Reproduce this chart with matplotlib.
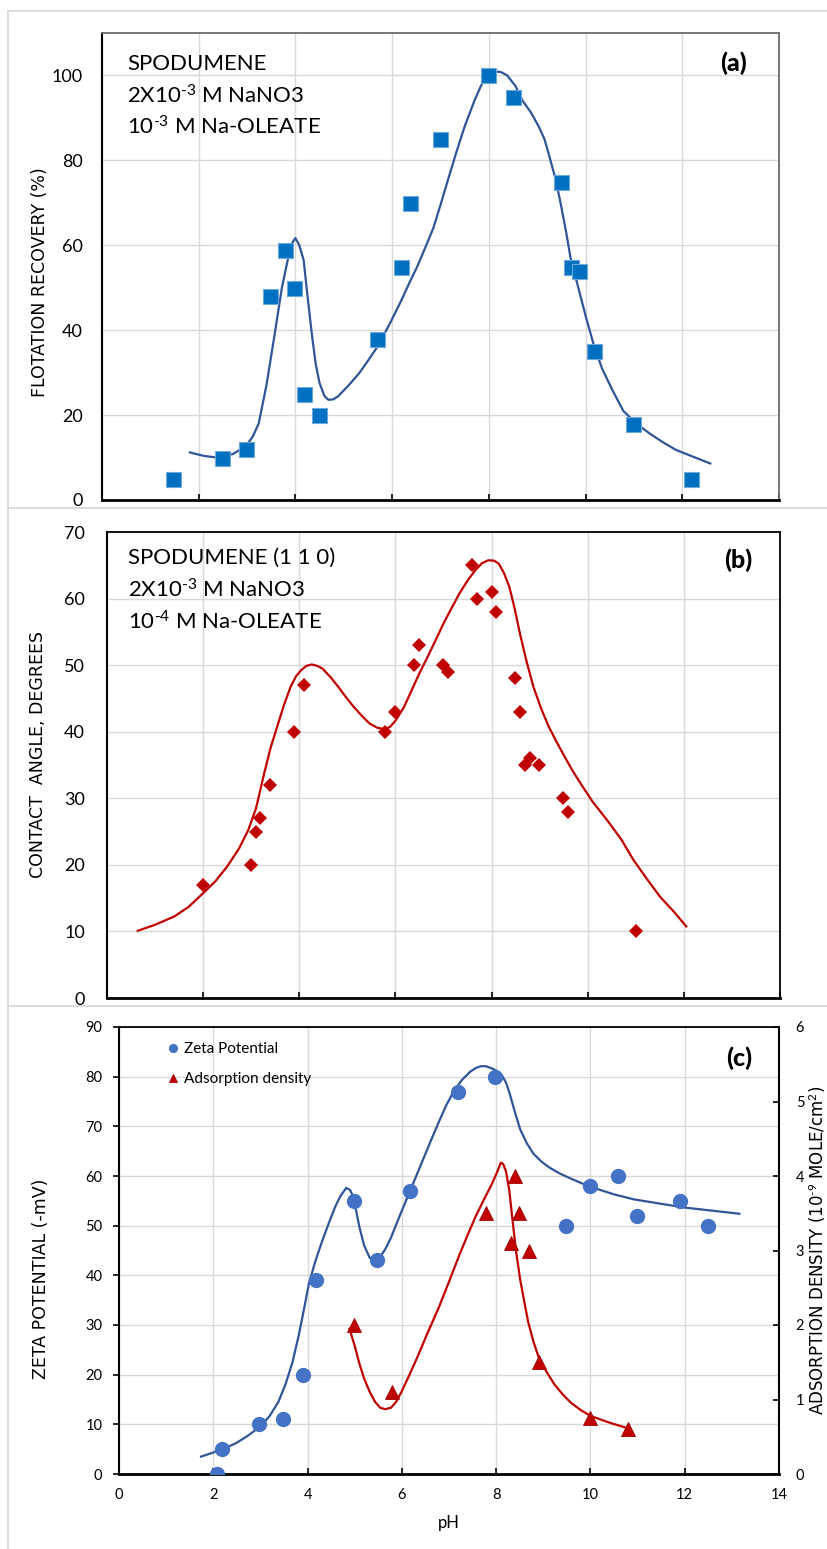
import matplotlib
matplotlib.use("Agg")
import matplotlib.pyplot as plt
from matplotlib.lines import Line2D

plt.rcParams['mathtext.fontset'] = 'custom'
plt.rcParams['mathtext.rm'] = 'Lato'
plt.rcParams['mathtext.it'] = 'Lato:italic'
plt.rcParams['mathtext.bf'] = 'Lato:bold'
plt.rcParams['mathtext.default'] = 'rm'

# ---------------- data: panel (a) flotation recovery ----------------
a_ph = [1.47, 2.48, 2.97, 3.48, 3.79, 3.97, 4.18, 4.48, 5.69, 6.19, 6.37, 6.98,
        7.99, 8.49, 9.49, 9.69, 9.87, 10.18, 10.98, 12.18]
a_rec = [5, 10, 12, 48, 59, 50, 25, 20, 38, 55, 70, 85, 100, 95, 75, 55, 54, 35, 18, 5]

a_curve_ph = [1.82, 2.1, 2.37, 2.7, 2.97, 3.12, 3.24, 3.4, 3.57, 3.72, 3.84, 3.93, 4.0, 4.08,
              4.17, 4.25, 4.34, 4.42, 4.5, 4.6, 4.68, 4.78, 4.88, 5.1, 5.32, 5.5, 5.69,
              5.95, 6.19, 6.35, 6.52, 6.68, 6.85, 7.0, 7.17, 7.33, 7.5, 7.7, 7.83, 7.95,
              8.1, 8.25, 8.38, 8.55, 8.7, 8.87, 9.03, 9.15, 9.25, 9.37, 9.47, 9.6, 9.69,
              9.85, 10.01, 10.17, 10.34, 10.55, 10.78, 11.05, 11.32, 11.6, 11.87, 12.2,
              12.58]
a_curve_rec = [11.2, 10.4, 10.0, 10.8, 12.6, 15, 18, 27, 39, 50, 56.5, 60.5, 61.7, 60,
               56.5, 48, 39, 32, 27.5, 24.5, 23.6, 23.7, 24.4, 27, 29.9, 32.8, 36,
               41.5, 47, 51, 55, 59.3, 64, 69.5, 76, 82, 88, 94, 97.4, 99.8,
               101, 100.8, 100, 97.5, 94, 91.3, 88, 85, 81, 76, 70.7, 63, 57,
               50, 43, 36.5, 31, 26, 21, 18, 15.7, 13.6, 11.8, 10.3,
               8.6]

# ---------------- data: panel (b) contact angle ----------------
b_ph = [2.0, 3.0, 3.09, 3.18, 3.39, 3.9, 4.1, 5.79, 5.99, 6.39, 6.5, 7.0, 7.09,
        7.6, 7.69, 8.0, 8.1, 8.49, 8.6, 8.7, 8.8, 8.98, 9.49, 9.6, 11.0]
b_angle = [17, 20, 25, 27, 32, 40, 47, 40, 43, 50, 53, 50, 49,
           65, 60, 61, 58, 48, 43, 35, 36, 35, 30, 28, 10]

b_curve_ph = [0.64, 1.0, 1.4, 1.7, 2.0, 2.25, 2.5, 2.75, 2.94, 3.1, 3.27, 3.4, 3.54,
              3.68, 3.82, 3.93, 4.04, 4.15, 4.26, 4.37, 4.48, 4.65, 4.81, 4.97, 5.13,
              5.3, 5.46, 5.62, 5.79, 5.9, 6.01, 6.17, 6.34, 6.5, 6.67, 6.84, 7.0, 7.17,
              7.33, 7.5, 7.66, 7.8, 7.93, 8.05, 8.15, 8.26, 8.37, 8.48, 8.59, 8.73,
              8.87, 9.03, 9.19, 9.35, 9.52, 9.68, 9.85, 10.1, 10.4, 10.7, 10.95, 11.2,
              11.5, 11.8, 12.05]
b_curve_angle = [10.1, 11, 12.25, 13.7, 15.75, 17.5, 19.75, 22.5, 25.25, 28.5, 33.75, 37.5, 40.75,
                 44, 46.75, 48.3, 49.25, 49.9, 50.1, 49.9, 49.5, 48.2, 46.75, 45.2, 43.75,
                 42.4, 41.25, 40.6, 40.35, 40.8, 41.75, 43.6, 46.25, 48.8, 51.25, 53.8, 56.25, 58.6,
                 60.75, 62.7, 64.25, 65.3, 65.75, 65.7, 65.25, 63.8, 61.75, 58.5, 54.75, 50.5,
                 46.75, 43.5, 40.75, 38.5, 36.25, 34.2, 32.25, 29.5, 26.75, 23.8, 20.75, 18.2,
                 15.25, 12.9, 10.75]

# ---------------- data: panel (c) zeta potential & adsorption ----------------
c_zeta_ph = [2.07, 2.18, 2.98, 3.47, 3.9, 4.17, 4.98, 5.48, 6.17, 7.19, 7.97,
             9.49, 9.99, 10.58, 10.99, 11.89, 12.49]
c_zeta = [0, 5, 10, 11, 20, 39, 55, 43, 57, 77, 80, 50, 58, 60, 52, 55, 50]

c_zeta_curve_ph = [1.74, 2.18, 2.5, 2.74, 3.0, 3.19, 3.38, 3.53, 3.68, 3.81, 3.92, 4.03,
                   4.17, 4.31, 4.45, 4.59, 4.7, 4.82, 4.9, 4.96, 5.03, 5.1, 5.2, 5.32,
                   5.43, 5.54, 5.65, 5.77, 5.93, 6.1, 6.27, 6.44, 6.61, 6.78, 6.94, 7.11,
                   7.28, 7.45, 7.56, 7.67, 7.78, 7.9, 8.01, 8.12, 8.21, 8.29, 8.4, 8.51,
                   8.65, 8.79, 8.96, 9.13, 9.35, 9.58, 9.85, 10.14, 10.5, 10.92, 11.5,
                   12.04, 12.6, 13.16]
c_zeta_curve = [3.5, 4.9, 6.3, 7.75, 9.6, 11.6, 14.5, 18, 22.5, 27.8, 33, 38.4,
                43, 46.9, 50.5, 53.9, 56, 57.6, 57.2, 56, 53, 49.7, 46, 43.5,
                43, 43.7, 45.3, 47.6, 51.4, 55.3, 59.2, 63.1, 67, 70.8, 74.2, 77.2,
                79.4, 81, 81.7, 82.1, 82.1, 81.7, 81.2, 80.3, 78.8, 76.5, 72.8, 69.4,
                66.6, 64.5, 62.9, 61.7, 60.5, 59.5, 58.4, 57.4, 56.3, 55.3, 54.4,
                53.6, 53, 52.4]

c_ads_ph = [4.98, 5.8, 7.78, 8.31, 8.4, 8.49, 8.69, 8.9, 10.0, 10.79]
c_ads = [2.0, 1.1, 3.5, 3.1, 4.0, 3.5, 3.0, 1.5, 0.75, 0.6]

c_ads_curve_ph = [4.89, 5.0, 5.1, 5.2, 5.32, 5.43, 5.54, 5.65, 5.77, 5.88, 5.99, 6.16,
                  6.33, 6.55, 6.78, 7.0, 7.22, 7.39, 7.56, 7.73, 7.9, 8.02, 8.1, 8.15,
                  8.21, 8.28, 8.34, 8.42, 8.51, 8.6, 8.68, 8.79, 8.9, 9.07, 9.24, 9.41,
                  9.58, 9.79, 10.0, 10.4, 10.81]
c_ads_curve = [1.95, 1.72, 1.48, 1.28, 1.1, 0.97, 0.89, 0.87, 0.89, 0.97, 1.1, 1.33,
               1.57, 1.9, 2.23, 2.58, 2.94, 3.2, 3.45, 3.67, 3.88, 4.05, 4.18, 4.16,
               4.06, 3.8, 3.45, 3.0, 2.61, 2.3, 2.04, 1.78, 1.57, 1.37, 1.2, 1.07,
               0.96, 0.86, 0.78, 0.69, 0.61]

x_ticks = [0, 2, 4, 6, 8, 10, 12, 14]
a_yticks = [0, 20, 40, 60, 80, 100]
b_yticks = [0, 10, 20, 30, 40, 50, 60, 70]
c_yticks = [0, 10, 20, 30, 40, 50, 60, 70, 80, 90]
c_y2ticks = [0, 1, 2, 3, 4, 5, 6]

# ---------------- figure ----------------
W, H = 828, 1549
fig = plt.figure(figsize=(W / 100, H / 100), dpi=100)
fig.patch.set_facecolor('white')

CAL = ['Lato', 'DejaVu Sans']
VER = ['DejaVu Sans']
GRID = '#d9d9d9'
SUP3 = r'$^{\text{-}3}$'
SUP4 = r'$^{\text{-}4}$'
SUP9 = r'$^{\text{-}9}$'


def box(l, t, r, b):
    return [l / W, 1 - b / H, (r - l) / W, (b - t) / H]


def fx(x):
    return x / W


def fy(y):
    return 1 - y / H


# panel separators (light frame lines)
for (x0, y0, x1, y1) in [(8, 11, W, 11), (8, 11, 8, H), (8, 508, W, 508), (8, 1006, W, 1006)]:
    fig.add_artist(Line2D([fx(x0), fx(x1)], [fy(y0), fy(y1)], color='#d9d9d9', lw=1.3,
                          transform=fig.transFigure))


def style_axis(ax, ylim, yticks, ylabelsize, ypad, spine_top='#000000'):
    ax.set_xlim(0, 14)
    ax.set_ylim(*ylim)
    ax.set_xticks(x_ticks)
    ax.set_yticks(yticks)
    ax.grid(True, color=GRID, lw=1.0)
    ax.set_axisbelow(True)
    for s in ax.spines.values():
        s.set_linewidth(1.3)
        s.set_color('#000000')
    ax.spines['bottom'].set_linewidth(2.0)
    ax.spines['left'].set_linewidth(1.5)
    ax.spines['top'].set_color(spine_top)
    ax.spines['right'].set_color(spine_top)
    ax.tick_params(axis='x', direction='in', length=4, width=1.2, color='#000000',
                   labelbottom=False)
    ax.tick_params(axis='y', length=0, pad=ypad, labelsize=ylabelsize)
    for lab in ax.get_yticklabels():
        lab.set_fontfamily(CAL)


# ---------- panel (a) ----------
ax_a = fig.add_axes(box(102, 33, 779, 500))
style_axis(ax_a, (0, 110), a_yticks, 13, 14, spine_top='#6b6b6b')
ax_a.plot(a_curve_ph, a_curve_rec, color='#2F5597', lw=1.6, zorder=3)
ax_a.plot(a_ph, a_rec, ls='none', marker='s', ms=10.8, mfc='#0070C0', mec='#6fa8dc',
          mew=0.8, zorder=4)
for i, t in enumerate(['SPODUMENE', '2X10' + SUP3 + ' M NaNO3', '10' + SUP3 + ' M Na-OLEATE']):
    fig.text(fx(127), fy(64 + 31.5 * i), t, fontsize=16, family=CAL, ha='left', va='center')
fig.text(fx(734), fy(63), '(a)', fontsize=18, family=CAL, fontweight='black',
         ha='center', va='center')
fig.text(fx(40), fy(282), 'FLOTATION RECOVERY (%)', rotation=90, fontsize=12.5,
         family=VER, ha='center', va='center')

# ---------- panel (b) ----------
ax_b = fig.add_axes(box(107, 532, 780, 998))
style_axis(ax_b, (0, 70), b_yticks, 13, 16)
ax_b.plot(b_curve_ph, b_curve_angle, color='#C00000', lw=1.6, zorder=3)
ax_b.plot(b_ph, b_angle, ls='none', marker='D', ms=7.6, mfc='#C00000', mec='#C00000',
          mew=0, zorder=4)
for i, t in enumerate(['SPODUMENE (1 1 0)', '2X10' + SUP3 + ' M NaNO3', '10' + SUP4 + ' M Na-OLEATE']):
    fig.text(fx(128), fy(558 + 32 * i), t, fontsize=16, family=CAL, ha='left', va='center')
fig.text(fx(738), fy(560), '(b)', fontsize=18, family=CAL, fontweight='black',
         ha='center', va='center')
fig.text(fx(38), fy(755), 'CONTACT  ANGLE, DEGREES', rotation=90, fontsize=12.5,
         family=VER, ha='center', va='center')

# ---------- panel (c) ----------
ax_c = fig.add_axes(box(119, 1027, 779, 1474))
ax_c.set_xlim(0, 14)
ax_c.set_ylim(0, 90)
ax_c.set_xticks(x_ticks)
ax_c.set_yticks(c_yticks)
ax_c.grid(True, color=GRID, lw=1.0)
ax_c.set_axisbelow(True)
for s in ax_c.spines.values():
    s.set_linewidth(1.3)
    s.set_color('#000000')
ax_c.spines['bottom'].set_linewidth(2.0)
ax_c.spines['left'].set_linewidth(1.5)
ax_c.tick_params(axis='x', direction='in', length=4, width=1.2, pad=10, labelsize=10.5)
ax_c.tick_params(axis='y', direction='out', length=4, width=1.2, pad=8, labelsize=10.5)
for lab in ax_c.get_xticklabels() + ax_c.get_yticklabels():
    lab.set_fontfamily(CAL)

ax_c2 = ax_c.twinx()
ax_c2.set_ylim(0, 6)
ax_c2.set_yticks(c_y2ticks)
ax_c2.tick_params(axis='y', direction='in', length=4, width=1.2, pad=12, labelsize=10.5)
for lab in ax_c2.get_yticklabels():
    lab.set_fontfamily(CAL)
for s in ax_c2.spines.values():
    s.set_visible(False)
ax_c2.spines['right'].set_visible(True)
ax_c2.spines['right'].set_linewidth(1.5)
ax_c2.spines['right'].set_color('#000000')

ax_c.plot(c_zeta_curve_ph, c_zeta_curve, color='#2F5597', lw=1.6, zorder=3)
zeta_pts, = ax_c.plot(c_zeta_ph, c_zeta, ls='none', marker='o', ms=11, mfc='#4472C4',
                      mec='#4472C4', mew=0, zorder=4, label='Zeta Potential')
ax_c2.plot(c_ads_curve_ph, c_ads_curve, color='#C00000', lw=1.6, zorder=3)
ads_pts, = ax_c2.plot(c_ads_ph, c_ads, ls='none', marker='^', ms=10, mfc='#C00000',
                      mec='#a00000', mew=0.6, zorder=4, label='Adsorption density')

leg = ax_c2.legend(handles=[zeta_pts, ads_pts], loc='upper left',
                   bbox_to_anchor=(fx(168), fy(1042)), bbox_transform=fig.transFigure,
                   frameon=False, markerscale=0.6, handlelength=0.7, handletextpad=0.35,
                   borderpad=0, borderaxespad=0, labelspacing=1.05,
                   prop={'family': CAL, 'size': 11})

fig.text(fx(739), fy(1058), '(c)', fontsize=18, family=CAL, fontweight='black',
         ha='center', va='center')
fig.text(fx(449), fy(1523), 'pH', fontsize=12, family=CAL, ha='center', va='center')
fig.text(fx(41), fy(1279), 'ZETA POTENTIAL (-mV)', rotation=90, fontsize=12.5,
         family=VER, ha='center', va='center')
fig.text(fx(817), fy(1250), 'ADSORPTION DENSITY (10' + SUP9 + ' MOLE/cm$^{2}$)', rotation=90,
         fontsize=12, family=VER, ha='center', va='center')

fig.savefig('out.png', dpi=100, facecolor='white')
